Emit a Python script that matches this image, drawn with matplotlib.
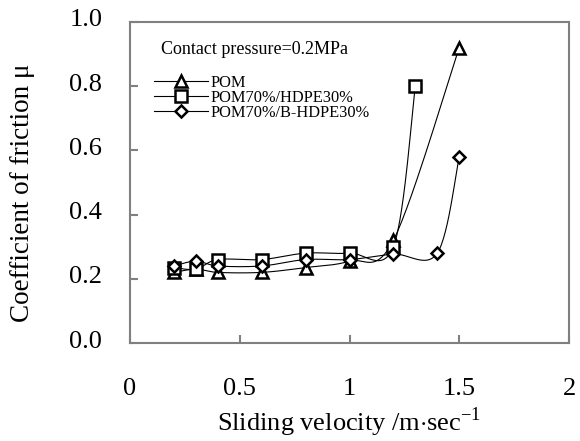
import numpy as np
import matplotlib
matplotlib.use("Agg")
import matplotlib.pyplot as plt
import matplotlib.transforms as mtransforms

plt.rcParams['font.family'] = ['Liberation Serif', 'DejaVu Serif']
plt.rcParams['mathtext.fontset'] = 'custom'
plt.rcParams['mathtext.rm'] = 'Liberation Serif'

# data
v_pom = [0.2, 0.3, 0.4, 0.6, 0.8, 1.0, 1.2, 1.5]
mu_pom = [0.22, 0.23, 0.22, 0.22, 0.235, 0.255, 0.32, 0.92]

v_hdpe = [0.2, 0.3, 0.4, 0.6, 0.8, 1.0, 1.2, 1.3]
mu_hdpe = [0.235, 0.23, 0.26, 0.26, 0.28, 0.28, 0.30, 0.80]

v_bhdpe = [0.2, 0.3, 0.4, 0.6, 0.8, 1.0, 1.2, 1.4, 1.5]
mu_bhdpe = [0.24, 0.255, 0.24, 0.24, 0.26, 0.26, 0.277, 0.28, 0.58]

labels = ['POM', 'POM70%/HDPE30%', 'POM70%/B-HDPE30%']
markers = ['^', 's', 'D']


def smooth(x, y, n=30):
    # excel style smoothed line (catmull-rom bezier)
    p = np.column_stack([x, y]).astype(float)
    out = []
    for i in range(len(p) - 1):
        p0 = p[i - 1] if i > 0 else p[i]
        p1 = p[i]
        p2 = p[i + 1]
        p3 = p[i + 2] if i + 2 < len(p) else p[i + 1]
        c1 = p1 + (p2 - p0) / 6
        c2 = p2 - (p3 - p1) / 6
        t = np.linspace(0, 1, n)[:, None]
        seg = ((1 - t) ** 3) * p1 + 3 * ((1 - t) ** 2) * t * c1 + 3 * (1 - t) * t ** 2 * c2 + t ** 3 * p2
        out.append(seg)
    s = np.vstack(out)
    return s[:, 0], s[:, 1]


fig = plt.figure(figsize=(5.8, 4.41), dpi=100)
ax = fig.add_axes([130 / 580, 98 / 441, 439 / 580, 321 / 441])

series = [(v_pom, mu_pom), (v_hdpe, mu_hdpe), (v_bhdpe, mu_bhdpe)]
for (x, y), lab, m in zip(series, labels, markers):
    sx, sy = smooth(x, y)
    ax.plot(sx, sy, color='black', lw=0.8, zorder=2)
    ms = 8.5 if m != 'D' else 6.5
    ax.plot(x, y, linestyle='none', marker=m, ms=ms, mfc='white', mec='black', mew=1.8, zorder=3)
    ax.plot([], [], color='black', lw=0.8, marker=m, ms=ms, mfc='white', mec='black', mew=1.8, label=lab)

ax.set_xlim(0, 2)
ax.set_ylim(0, 1.0)
ax.set_xticks([0, 0.5, 1, 1.5, 2])
ax.set_xticklabels(['0', '0.5', '1', '1.5', '2'])
ax.set_yticks([0, 0.2, 0.4, 0.6, 0.8, 1.0])
ax.set_yticklabels(['0.0', '0.2', '0.4', '0.6', '0.8', '1.0'])
ax.tick_params(direction='in', length=6, width=1.5, color='#808080', labelsize=19, pad=20)
ax.tick_params(axis='x', pad=25)
ax.tick_params(top=False, right=False)
for s in ax.spines.values():
    s.set_color('#808080')
    s.set_linewidth(1.5)

# y tick labels sit a few pixels above their ticks in the reference
shift = mtransforms.ScaledTranslation(0, 4 / 100, fig.dpi_scale_trans)
for t in ax.get_yticklabels():
    t.set_transform(t.get_transform() + shift)

fig.text(349 / 580, 1 - 431 / 441, r'Sliding velocity /m$\cdot$sec$^{\mathregular{-1}}$', ha='center', va='baseline', fontsize=19)
fig.text(23 / 580, 1 - 193 / 441, 'Coefficient of friction μ', rotation=90, ha='center', va='center', fontsize=19.5)

ax.text(0.07, 0.915, 'Contact pressure=0.2MPa', transform=ax.transAxes, fontsize=13, va='center')
ax.legend(loc='upper left', bbox_to_anchor=(0.035, 0.86), frameon=False, fontsize=11.8,
          handlelength=3.3, handletextpad=0.2, labelspacing=-0.08, borderpad=0)

fig.savefig('out.png', dpi=100)
